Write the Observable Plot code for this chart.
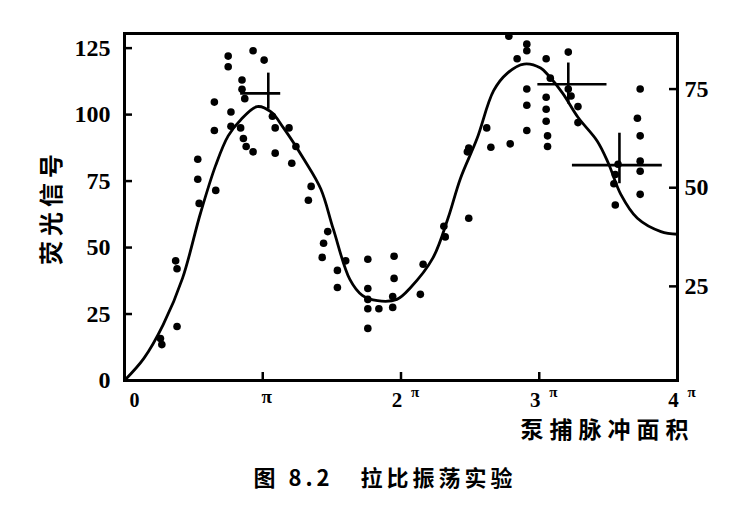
<!DOCTYPE html>
<html>
<head>
<meta charset="utf-8">
<script src="https://cdn.jsdelivr.net/npm/d3@7"></script>
<script src="https://cdn.jsdelivr.net/npm/@observablehq/plot@0.6"></script>
<style>
  html, body { margin: 0; padding: 0; background: #fff; }
</style>
</head>
<body>
<div id="chart"></div>
<script>
// ---- data (x in units of π, y = fluorescence signal, left scale) ----
const curveX = [0,0.14,0.28,0.42,0.55,0.66,0.75,0.84,0.96,1.06,1.15,1.30,1.42,1.51,1.63,1.72,1.83,1.97,2.07,2.23,2.34,2.43,2.55,2.67,2.77,2.89,3.01,3.07,3.17,3.28,3.42,3.50,3.59,3.71,3.88,4.0];
const curveY = [0,8.3,21,38.5,63,81,92,98,103,101,95,83,72,57,38,32,30,30.5,35,46,61,76,91,109,115.6,119,117.5,114.5,108,99,90,81.7,70,61,56,55];

const dotX = [0.26,0.27,0.38,0.38,0.37,0.53,0.53,0.54,0.66,
  0.65,0.65,0.75,0.75,0.77,0.77,0.93,1.01,0.85,0.85,0.87,0.84,0.86,0.88,0.93,
  1.07,1.09,1.09,1.19,1.24,1.21,1.35,1.33,
  1.47,1.44,1.43,1.60,1.54,1.54,
  1.76,1.76,1.76,1.76,1.84,1.76,
  1.95,1.95,1.94,1.94,
  2.16,2.14,2.31,2.32,2.48,2.49,
  2.49,2.62,2.65,2.79,
  2.78,2.91,2.91,2.84,3.05,3.21,
  2.91,2.91,2.91,
  3.05,3.05,3.05,3.06,3.06,3.08,
  3.21,3.23,3.28,3.28,
  3.73,3.71,3.73,3.73,3.73,3.73,
  3.57,3.55,3.54,3.55];
const dotY = [15.8,13.5,20.3,42,45,83.2,75.7,66.6,71.5,
  104.7,94,122,118,101,95.6,124,120.5,113,109.5,106,95,91,88,86,
  99.4,95,85.5,95,88,81.7,73,67.8,
  56,51.6,46.3,45,41.4,35,
  45.6,34.6,30.5,27,27,19.6,
  46.7,38.4,31.6,27.5,
  43.7,32.4,58,54,86,61,
  87.4,95,87.7,89,
  129.5,126.5,124,121,121,123.5,
  109.6,103.5,94,
  106.5,102,97.5,92,88,113.7,
  109.6,107,103,97,
  109.6,98.6,92,82.5,78.7,70,
  81.3,77.5,74,66];

// error crosses
const crossX  = [1.04, 3.21, 3.58];
const crossY  = [108, 111.4, 81];
const crossX1 = [0.84, 2.99, 3.24];
const crossX2 = [1.13, 3.49, 3.89];
const crossY1 = [102, 104, 74];
const crossY2 = [115.6, 119.4, 93];

// axes
const leftTicks = [0,25,50,75,100,125];
const rightTicks = [25,50,75];
const xTicks = [0,1,2,3,4];
const xTickLabels = ["0","π","2π","3π","4π"];

const yLabel = "荧光信号";
const xLabel = "泵捕脉冲面积";
const caption = "图 8.2   拉比振荡实验";

// right scale expressed on left scale
const rightToLeft = v => 1.484 * v - 1.7;

// ---- tables ----
const curve = curveX.map((x, i) => ({x, y: curveY[i]}));
const dots = dotX.map((x, i) => ({x, y: dotY[i]}));
const crosses = crossX.map((x, i) => ({x, y: crossY[i], x1: crossX1[i], x2: crossX2[i], y1: crossY1[i], y2: crossY2[i]}));
const xRows = xTicks.map((v, i) => ({v, coef: xTickLabels[i].replace("π", ""), pi: xTickLabels[i].includes("π")}));
const rightRows = rightTicks.map(v => ({v, y: rightToLeft(v)}));

const numFont = "Liberation Serif";
const cjkFont = "Noto Sans CJK SC";

const W = 740, H = 510, mL = 124, mR = 63, mT = 33, mB = 130;
const frameW = W - mL - mR, frameH = H - mT - mB, tick = 8;

const chart = Plot.plot({
  width: W,
  height: H,
  marginLeft: mL,
  marginRight: mR,
  marginTop: mT,
  marginBottom: mB,
  style: {background: "#fff", fontFamily: numFont, overflow: "visible"},
  x: {domain: [0, 4], axis: null},
  y: {domain: [0, 130.5], axis: null},
  marks: [
    // inward tick marks
    Plot.ruleY(leftTicks, {y: d => d, insetRight: frameW - tick, stroke: "black", strokeWidth: 2.5}),
    Plot.ruleY(rightRows, {y: "y", insetLeft: frameW - tick, stroke: "black", strokeWidth: 2.5}),
    Plot.ruleX([1, 2, 3], {x: d => d, insetTop: frameH - tick, stroke: "black", strokeWidth: 2.5}),
    // left labels
    Plot.axisY(leftTicks, {anchor: "left", tickSize: 0, tickPadding: 14, fontSize: 24, fontWeight: "bold", fontFamily: numFont}),
    // right labels
    Plot.text(rightRows, {y: "y", text: d => String(d.v), frameAnchor: "right", dx: 7, textAnchor: "start", fontSize: 24, fontWeight: "bold", fontFamily: numFont}),
    // x labels
    Plot.text(xRows.filter(d => d.v === 0), {x: "v", text: "coef", frameAnchor: "bottom", dy: 26, dx: 10, fontSize: 20, fontWeight: "bold", fontFamily: numFont}),
    Plot.text(xRows.filter(d => d.v !== 0 && d.coef !== ""), {x: "v", text: "coef", frameAnchor: "bottom", dy: 26, dx: -4, fontSize: 21, fontWeight: "bold", fontFamily: numFont}),
    Plot.text(xRows.filter(d => d.pi && d.coef === ""), {x: "v", text: () => "π", frameAnchor: "bottom", dy: 22, dx: 4, fontSize: 19, fontWeight: "bold", fontFamily: numFont}),
    Plot.text(xRows.filter(d => d.pi && d.coef !== ""), {x: "v", text: () => "π", frameAnchor: "bottom", dy: 16, dx: 14, fontSize: 15, fontWeight: "bold", fontFamily: numFont}),
    // frame
    Plot.frame({strokeWidth: 3, stroke: "black"}),
    // fitted curve
    Plot.line(curve, {x: "x", y: "y", curve: "catmull-rom", stroke: "black", strokeWidth: 2.8}),
    // error crosses
    Plot.ruleY(crosses, {y: "y", x1: "x1", x2: "x2", stroke: "black", strokeWidth: 2.6}),
    Plot.ruleX(crosses, {x: "x", y1: "y1", y2: "y2", stroke: "black", strokeWidth: 2.6}),
    // data points
    Plot.dot(dots, {x: "x", y: "y", r: 3.8, fill: "black", stroke: "none"}),
    // titles
    Plot.text([yLabel], {frameAnchor: "left", dx: -72, rotate: -90, textAnchor: "middle", fontSize: 24, fontWeight: "bold", fontFamily: cjkFont}),
    Plot.text([xLabel], {frameAnchor: "bottom-right", dx: 17, dy: 57, textAnchor: "end", fontSize: 23, fontWeight: "bold", fontFamily: cjkFont}),
    Plot.text([caption], {frameAnchor: "bottom", dx: -16, dy: 105, fontSize: 22, fontWeight: "bold", fontFamily: cjkFont})
  ]
});
document.getElementById("chart").appendChild(chart);

// letter spacing for the CJK titles
const spacing = new Map([[yLabel, "5px"], [xLabel, "6px"], [caption, "4px"]]);
chart.querySelectorAll("text").forEach(t => {
  const s = spacing.get(t.textContent);
  if (s) t.setAttribute("letter-spacing", s);
});
</script>
</body>
</html>
